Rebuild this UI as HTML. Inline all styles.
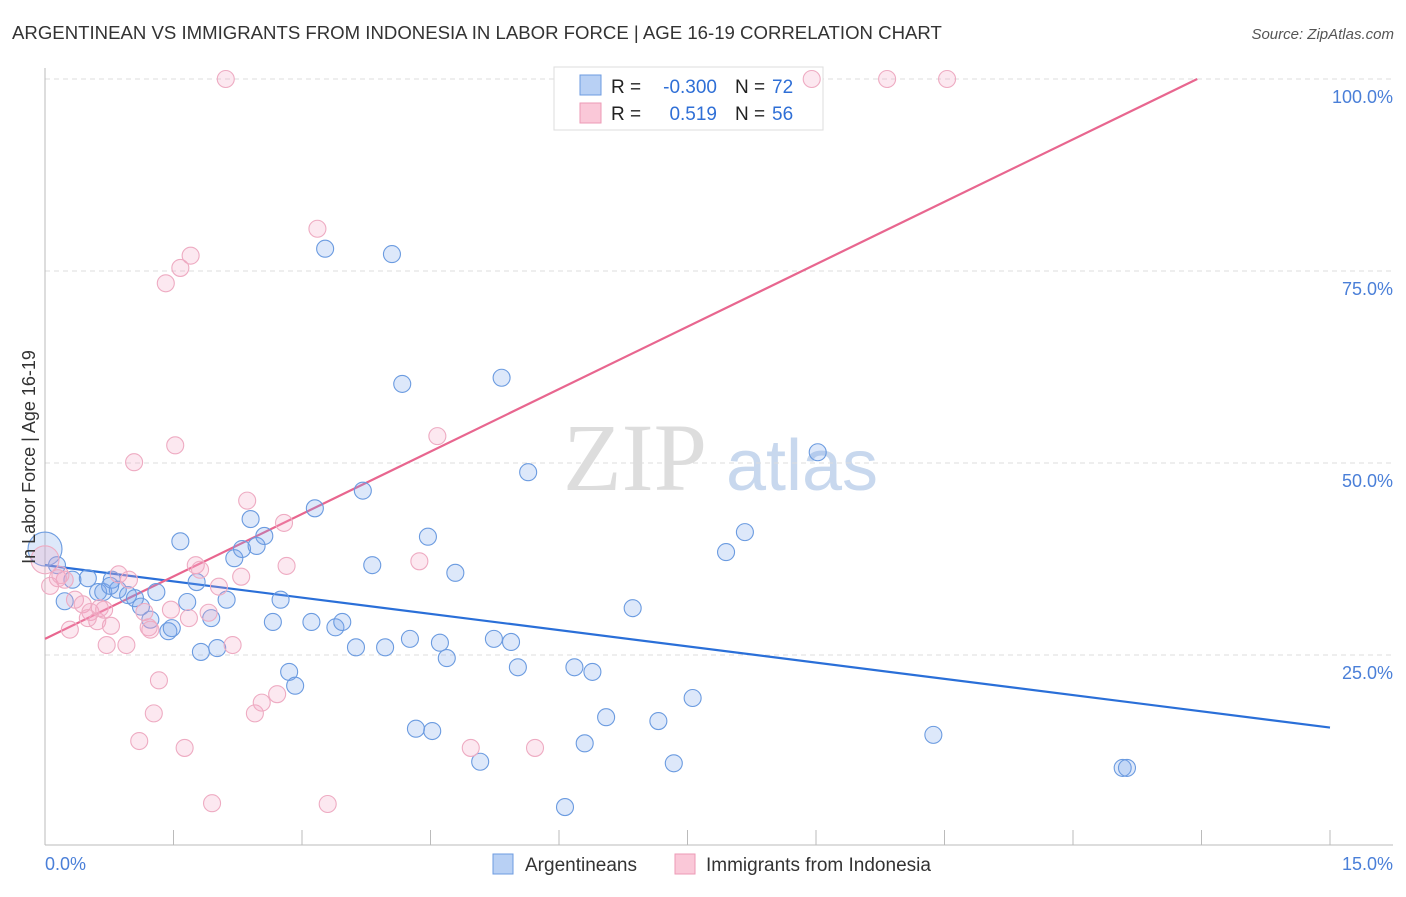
<!DOCTYPE html>
<html><head><meta charset="utf-8"><style>
body{margin:0;background:#fff;font-family:"Liberation Sans",sans-serif;}
svg text{font-family:"Liberation Sans",sans-serif;}
</style></head><body>
<svg id="chart" width="1406" height="892" xmlns="http://www.w3.org/2000/svg">
<text x="12" y="39" font-size="18.6" fill="#333">ARGENTINEAN VS IMMIGRANTS FROM INDONESIA IN LABOR FORCE | AGE 16-19 CORRELATION CHART</text>
<text x="1394" y="39" font-size="15" fill="#555" text-anchor="end" font-style="italic">Source: ZipAtlas.com</text>
<g>
<text x="635" y="490" font-size="96" fill="#ddd" text-anchor="middle" style="font-family:'Liberation Serif',serif">ZIP</text>
<text x="802" y="490" font-size="72" fill="#c8d8ee" text-anchor="middle">atlas</text>
</g>
<g id="grid"></g>
<g>
<rect x="554" y="67" width="269" height="63" fill="#fff" stroke="#ddd"/>
<rect x="580" y="75" width="21" height="20" fill="#b8d0f4" stroke="#6d9be0"/>
<rect x="580" y="103" width="21" height="20" fill="#fac8d8" stroke="#ec9ab6"/>
<text x="611" y="93" font-size="19" fill="#222">R = </text><text x="717" y="93" font-size="19" fill="#2f6fd6" text-anchor="end">-0.300</text>
<text x="735" y="93" font-size="19" fill="#222">N = </text><text x="772" y="93" font-size="19" fill="#2f6fd6">72</text>
<text x="611" y="120" font-size="19" fill="#222">R = </text><text x="717" y="120" font-size="19" fill="#2f6fd6" text-anchor="end">0.519</text>
<text x="735" y="120" font-size="19" fill="#222">N = </text><text x="772" y="120" font-size="19" fill="#2f6fd6">56</text>
</g>
<g id="trends"></g>
<g id="points"></g>
<text transform="translate(35,457) rotate(-90)" font-size="18" fill="#333" text-anchor="middle">In Labor Force | Age 16-19</text>
<g>
<rect x="493" y="854" width="20" height="20" fill="#b8d0f4" stroke="#6d9be0"/>
<text x="525" y="871" font-size="19" fill="#333">Argentineans</text>
<rect x="675" y="854" width="20" height="20" fill="#fac8d8" stroke="#ec9ab6"/>
<text x="706" y="871" font-size="19" fill="#333">Immigrants from Indonesia</text>
</g>
</svg>
<script>
const xTicks=[0,1.5,3,4.5,6,7.5,9,10.5,12,13.5,15];
const yTicks=[25,50,75,100];
const yTickLabels=["25.0%","50.0%","75.0%","100.0%"];
const xEndLabels=["0.0%","15.0%"];
const blueX=[0.0,0.14,0.23,0.32,0.50,0.62,0.68,0.78,0.85,0.97,1.05,1.12,1.23,1.30,1.44,1.48,1.58,1.66,1.77,1.82,1.94,2.01,2.12,2.21,2.30,2.40,2.47,2.56,2.66,2.75,2.85,2.92,3.11,3.15,3.27,3.39,3.47,3.63,3.71,3.82,3.97,4.05,4.17,4.26,4.33,4.47,4.52,4.61,4.69,4.79,5.08,5.24,5.33,5.44,5.52,5.64,6.07,6.18,6.30,6.39,6.55,6.86,7.16,7.34,7.56,7.95,8.17,9.02,10.37,12.58,12.63,0.76];
const blueY=[38.8,36.7,32.0,34.8,35.0,33.2,33.2,34.8,33.5,32.8,32.4,31.3,29.6,33.2,28.1,28.5,39.8,31.9,34.5,25.4,29.8,25.9,32.2,37.6,38.8,42.7,39.2,40.5,29.3,32.2,22.8,21.0,29.3,44.1,77.9,28.6,29.3,26.0,46.4,36.7,26.0,77.2,60.3,27.1,15.4,40.4,15.1,26.6,24.6,35.7,11.1,27.1,61.1,26.7,23.4,48.8,5.2,23.4,13.5,22.8,16.9,31.1,16.4,10.9,19.4,38.4,41.0,51.4,14.6,10.3,10.3,34.0];
const pinkX=[0.0,0.06,0.15,0.23,0.35,0.44,0.53,0.61,0.64,0.72,0.77,0.86,0.95,0.98,1.04,1.10,1.16,1.21,1.27,1.33,1.41,1.47,1.52,1.58,1.63,1.68,1.70,1.76,1.81,1.91,1.95,2.03,2.11,2.19,2.29,2.36,2.45,2.53,2.71,2.79,2.82,3.18,3.30,4.37,4.58,4.97,5.72,8.95,9.83,10.53,0.29,0.18,0.50,1.23,0.69];
const pinkY=[37.4,34.0,35.0,34.8,32.2,31.6,30.6,29.4,31.1,26.3,28.8,35.5,26.3,34.8,50.1,13.8,30.6,28.6,17.4,21.7,73.4,30.9,52.3,75.4,12.9,29.8,77.0,36.7,36.1,30.5,5.7,33.9,100,26.3,35.2,45.1,17.4,18.8,19.9,42.2,36.6,80.5,5.6,37.2,53.5,12.9,12.9,100,100,100,28.3,35.4,29.8,28.3,30.9];
const blueBig=[0];const pinkBig=[0];
const blueTrend=[36.7,-1.41];
const pinkTrend=[27.1,5.42];
const NS="http://www.w3.org/2000/svg";
const X0=45,X1=1330,YB=847,YT=79;
function sx(v){return X0+(v/15)*(X1-X0);}
function sy(v){return YB-(v/100)*(YB-YT);}
function mk(tag,attrs,parent){const e=document.createElementNS(NS,tag);for(const k in attrs)e.setAttribute(k,attrs[k]);parent.appendChild(e);return e;}
const grid=document.getElementById('grid');
yTicks.forEach((t,i)=>{
 const l=mk('line',{x1:45,x2:1393,y1:sy(t),y2:sy(t),stroke:'#ddd','stroke-dasharray':'5,4'},grid);
 
 
 const tx=mk('text',{x:1393,y:sy(t)+24,'font-size':18,fill:'#4a7fd8','text-anchor':'end'},grid);
 tx.textContent=yTickLabels[i];
 
 
});
const ax=mk('line',{x1:45,x2:45,y1:68,y2:845,stroke:'#bbb'},grid);


const axx=mk('line',{x1:45,x2:1393,y1:845,y2:845,stroke:'#bbb'},grid);


xTicks.forEach(t=>{
 const l=mk('line',{x1:sx(t),x2:sx(t),y1:830,y2:845,stroke:'#bbb'},grid);
 
 
});
const xl0=mk('text',{x:45,y:870,'font-size':18,fill:'#4a7fd8'},grid);xl0.textContent=xEndLabels[0];


const xl1=mk('text',{x:1393,y:870,'font-size':18,fill:'#4a7fd8','text-anchor':'end'},grid);xl1.textContent=xEndLabels[1];


const pts=document.getElementById('points');
blueX.forEach((x,i)=>{
 const r=blueBig.includes(i)?17:8.5;
 const c=mk('circle',{cx:sx(x),cy:sy(blueY[i]),r:r,fill:'rgba(120,165,235,0.25)',stroke:'#6b9be0','stroke-width':1.1},pts);
 
 
});
pinkX.forEach((x,i)=>{
 const r=pinkBig.includes(i)?14:8.5;
 const c=mk('circle',{cx:sx(x),cy:sy(pinkY[i]),r:r,fill:'rgba(245,165,195,0.25)',stroke:'#eeabc2','stroke-width':1.1},pts);
 
 
});
const tr=document.getElementById('trends');
const bl=mk('line',{x1:sx(0),y1:sy(blueTrend[0]),x2:sx(15),y2:sy(blueTrend[0]+blueTrend[1]*15),stroke:'#2a6fd8','stroke-width':2.2},tr);


const xe=(100-pinkTrend[0])/pinkTrend[1];
const pl=mk('line',{x1:sx(0),y1:sy(pinkTrend[0]),x2:sx(xe),y2:sy(100),stroke:'#e8668f','stroke-width':2.2},tr);


</script>
</body></html>
